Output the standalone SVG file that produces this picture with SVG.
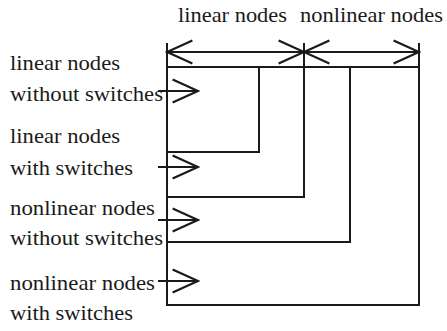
<svg xmlns="http://www.w3.org/2000/svg" width="447" height="331" viewBox="0 0 447 331">
<style>
text{font-family:"Liberation Serif","Times New Roman",serif;font-size:21.5px;fill:#1a1a1a}
.ln{stroke:#1a1a1a;stroke-width:2;fill:none}
</style>
<defs>
<marker id="ah" markerUnits="userSpaceOnUse" markerWidth="30" markerHeight="30" viewBox="-24 -12 26 24" refX="0" refY="0" orient="auto-start-reverse">
<path d="M-22,-10 L0,0 L-22,10" fill="none" stroke="#1a1a1a" stroke-width="2"/>
</marker>
</defs>
<rect width="447" height="331" fill="#fff"/>
<g id="frame">
<rect class="ln" x="167" y="67" width="252" height="238"/>
<line class="ln" x1="167" y1="43" x2="167" y2="67"/>
<line class="ln" x1="304" y1="43" x2="304" y2="67"/>
<line class="ln" x1="419" y1="43" x2="419" y2="67"/>
</g>
<g id="connectors">
<line class="ln" x1="167" y1="52" x2="304" y2="52" marker-start="url(#ah)" marker-end="url(#ah)"/>
<line class="ln" x1="304" y1="52" x2="419" y2="52" marker-start="url(#ah)" marker-end="url(#ah)"/>
<polyline class="ln" points="259,67 259,152 167,152"/>
<polyline class="ln" points="304,67 304,197 167,197"/>
<polyline class="ln" points="350,67 350,242 167,242"/>
<line class="ln" x1="158" y1="91" x2="198" y2="91" marker-end="url(#ah)"/>
<line class="ln" x1="158" y1="167" x2="198" y2="167" marker-end="url(#ah)"/>
<line class="ln" x1="158" y1="220" x2="198" y2="220" marker-end="url(#ah)"/>
<line class="ln" x1="158" y1="281" x2="198" y2="281" marker-end="url(#ah)"/>
</g>
<g id="top-labels">
<text x="178" y="22" textLength="109" lengthAdjust="spacingAndGlyphs">linear nodes</text>
<text x="300" y="22" textLength="143" lengthAdjust="spacingAndGlyphs">nonlinear nodes</text>
</g>
<g id="n1"><text x="10" y="70" textLength="110" lengthAdjust="spacingAndGlyphs">linear nodes</text><text x="10" y="101" textLength="153" lengthAdjust="spacingAndGlyphs">without switches</text></g>
<g id="n2"><text x="10" y="143" textLength="110" lengthAdjust="spacingAndGlyphs">linear nodes</text><text x="10" y="175" textLength="123" lengthAdjust="spacingAndGlyphs">with switches</text></g>
<g id="n3"><text x="10" y="215" textLength="145" lengthAdjust="spacingAndGlyphs">nonlinear nodes</text><text x="10" y="245" textLength="153" lengthAdjust="spacingAndGlyphs">without switches</text></g>
<g id="n4"><text x="10" y="290" textLength="145" lengthAdjust="spacingAndGlyphs">nonlinear nodes</text><text x="10" y="320" textLength="123" lengthAdjust="spacingAndGlyphs">with switches</text></g>
</svg>
